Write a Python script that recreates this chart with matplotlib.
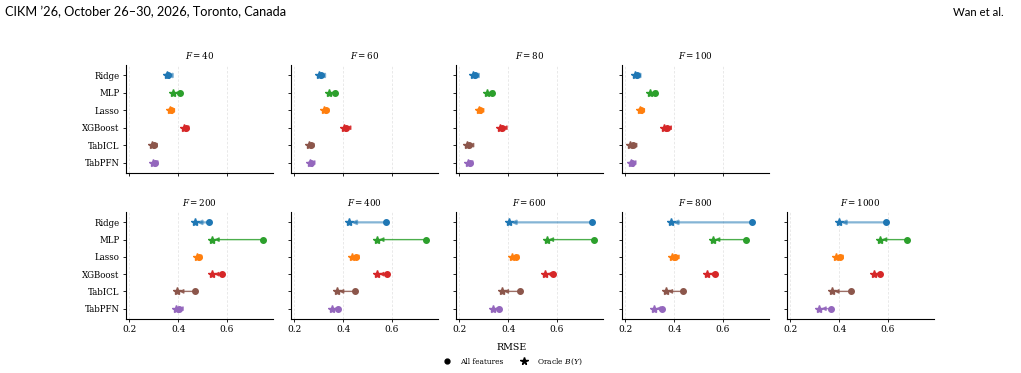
import matplotlib
matplotlib.use("Agg")
import matplotlib.pyplot as plt
from matplotlib.lines import Line2D

plt.rcParams['font.family'] = ['DejaVu Serif']
plt.rcParams['mathtext.fontset'] = 'dejavuserif'

models = ["Ridge", "MLP", "Lasso", "XGBoost", "TabICL", "TabPFN"]
colors = ["#1f77b4", "#2ca02c", "#ff7f0e", "#d62728", "#8c564b", "#9467bd"]
feature_counts = [40, 60, 80, 100, 200, 400, 600, 800, 1000]

# RMSE with all features (circle)
rmse_all = {
    40:   [0.360, 0.406, 0.372, 0.432, 0.302, 0.305],
    60:   [0.310, 0.368, 0.328, 0.413, 0.268, 0.270],
    80:   [0.264, 0.335, 0.286, 0.377, 0.241, 0.243],
    100:  [0.246, 0.320, 0.265, 0.369, 0.230, 0.229],
    200:  [0.529, 0.747, 0.485, 0.581, 0.468, 0.405],
    400:  [0.577, 0.740, 0.452, 0.580, 0.451, 0.380],
    600:  [0.744, 0.755, 0.434, 0.584, 0.449, 0.363],
    800:  [0.722, 0.695, 0.405, 0.569, 0.437, 0.352],
    1000: [0.592, 0.680, 0.403, 0.570, 0.448, 0.367],
}
# RMSE with Oracle B(Y) (star)
rmse_oracle = {
    40:   [0.354, 0.378, 0.365, 0.424, 0.294, 0.297],
    60:   [0.302, 0.342, 0.321, 0.403, 0.260, 0.264],
    80:   [0.256, 0.314, 0.280, 0.367, 0.230, 0.235],
    100:  [0.238, 0.302, 0.258, 0.360, 0.218, 0.223],
    200:  [0.468, 0.540, 0.477, 0.539, 0.395, 0.392],
    400:  [0.425, 0.539, 0.437, 0.539, 0.374, 0.353],
    600:  [0.403, 0.558, 0.415, 0.550, 0.373, 0.336],
    800:  [0.386, 0.559, 0.392, 0.536, 0.365, 0.316],
    1000: [0.399, 0.567, 0.388, 0.544, 0.371, 0.318],
}
xticks = [0.2, 0.4, 0.6]

W, H = 1021, 373
fig = plt.figure(figsize=(W / 100, H / 100), dpi=100)

col_left = [126, 291, 456, 622, 787]
ax_w = 147
rows = [(65, 173), (212, 319)]

layout = [(0, 0), (0, 1), (0, 2), (0, 3), (1, 0), (1, 1), (1, 2), (1, 3), (1, 4)]
ypos = list(range(len(models)))

for F, (r, c) in zip(feature_counts, layout):
    top, bot = rows[r]
    ax = fig.add_axes([col_left[c] / W, 1 - bot / H, ax_w / W, (bot - top) / H])
    for i, m in enumerate(models):
        a = rmse_all[F][i]
        o = rmse_oracle[F][i]
        col = colors[i]
        lw = 1.6 if m == "Ridge" else 1.0
        al = 0.55 if m == "Ridge" else 0.85
        ax.annotate('', xy=(o, i), xytext=(a, i),
                    arrowprops=dict(arrowstyle='-|>', color=col, lw=lw, alpha=al,
                                    shrinkA=0, shrinkB=1.5, mutation_scale=6),
                    zorder=2)
        ax.plot([a], [i], 'o', color=col, markersize=4.0, zorder=3)
        ax.plot([o], [i], '*', color=col, markersize=6.0, zorder=4)
    ax.set_xlim(0.186, 0.79)
    ax.set_ylim(5.6, -0.6)
    ax.set_yticks(ypos)
    ax.set_xticks(xticks)
    for xv in xticks:
        ax.axvline(xv, color='#cccccc', lw=0.6, ls=(0, (3, 2)), alpha=0.5, zorder=0)
    if c == 0:
        ax.set_yticklabels(models, fontsize=6.2)
    else:
        ax.set_yticklabels([])
    if r == 1:
        ax.set_xticklabels([f"{v:.1f}" for v in xticks], fontsize=6.5)
    else:
        ax.set_xticklabels([])
    ax.tick_params(axis='both', length=2.5, width=0.6, pad=2)
    ax.spines['top'].set_visible(False)
    ax.spines['right'].set_visible(False)
    ax.spines['left'].set_linewidth(0.8)
    ax.spines['bottom'].set_linewidth(0.8)
    ax.set_title(f"$F = {F}$", fontsize=6.3, pad=4)

fig.text(512 / W, 1 - 348 / H, "RMSE", ha='center', va='center', fontsize=6.8)

handles = [Line2D([], [], marker='o', color='black', ls='none', markersize=3.5),
           Line2D([], [], marker='*', color='black', ls='none', markersize=5.5)]
fig.legend(handles, ["All features", "Oracle $B(Y)$"], loc='center',
           bbox_to_anchor=(512 / W, 1 - 362 / H), ncol=2, frameon=False,
           fontsize=5.4, handletextpad=1.0, columnspacing=2.0, handlelength=1.5)

fig.text(5 / W, 1 - 12 / H, "CIKM \u201926, October 26\u201330, 2026, Toronto, Canada",
         ha='left', va='center', fontsize=9.2, family=['Lato', 'DejaVu Sans'])
fig.text(1004 / W, 1 - 12 / H, "Wan et al.", ha='right', va='center',
         fontsize=8.2, family=['Lato', 'DejaVu Sans'])

fig.savefig("out.png", dpi=100)
